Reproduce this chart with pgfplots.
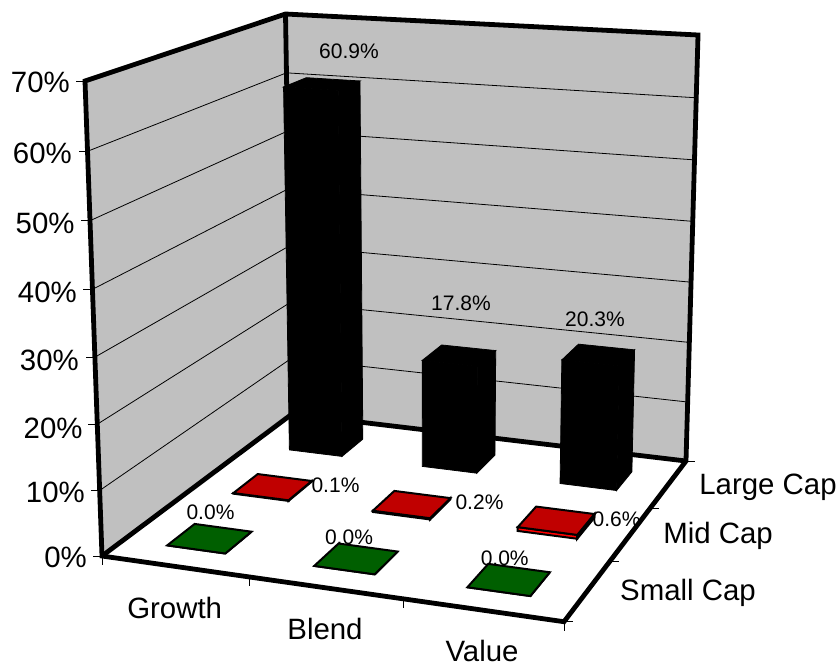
\documentclass[border=0pt]{standalone}
\usepackage{fontspec}
\setmainfont{Liberation Sans}
\usepackage{pgfplots}
\pgfplotsset{compat=1.18}

% Perspective projection of the chart box: u and v run from 0 to 3 over the
% floor (column and row), w is the height in percent.
\newcommand\projW[3]{(1-0.06042*(#1)/3+0.1913*(#2)/3-0.04*(#3)/70)}
\newcommand\projX[3]{((427.92*(#1)/3+245.86*(#2)/3+102+(#3)/70*(-20.4+4.83*(#1)/3+1.24*(#2)/3))/\projW{#1}{#2}{#3})}
\newcommand\projY[3]{((28.14*(#1)/3-62.8*(#2)/3+556+(#3)/70*(-478.24-6.08*(#1)/3+1.16*(#2)/3))/\projW{#1}{#2}{#3})}

\pgfplotsset{
  /pgfplots/table/model/.style={
    row sep=\\,
    x expr={\projX{\thisrow{u}}{\thisrow{v}}{\thisrow{w}}},
    y expr={\projY{\thisrow{u}}{\thisrow{v}}{\thisrow{w}}}},
  /pgfplots/table/modeltick/.style={
    row sep=\\,
    x expr={\projX{\thisrow{u}}{\thisrow{v}}{\thisrow{w}}+\thisrow{dx}},
    y expr={\projY{\thisrow{u}}{\thisrow{v}}{\thisrow{w}}+\thisrow{dy}}},
}

\definecolor{wall}{HTML}{C0C0C0}
\definecolor{redtop}{HTML}{C00000}
\definecolor{redfront}{HTML}{FF0000}
\definecolor{greentop}{HTML}{005F00}

% One column: #1 front, #2 side, #3 top colour, #4 outline width,
% #5 #6 u range, #7 #8 v range, #9 value
\newcommand\column[9]{%
  \addplot[fill=#1,draw=black,line width=#4] table[model]
    {u v w\\ #5 #7 0\\ #6 #7 0\\ #6 #7 #9\\ #5 #7 #9\\} --cycle;
  \addplot[fill=#2,draw=black,line width=#4] table[model]
    {u v w\\ #6 #7 0\\ #6 #8 0\\ #6 #8 #9\\ #6 #7 #9\\} --cycle;
  \addplot[fill=#3,draw=black,line width=#4] table[model]
    {u v w\\ #5 #7 #9\\ #6 #7 #9\\ #6 #8 #9\\ #5 #8 #9\\} --cycle;
}
% Value label: #1 x, #2 y (baseline centre), #3 value
\newcommand\valuelabel[3]{%
  \addplot[only marks,mark=none,point meta=explicit,
    nodes near coords={\pgfmathprintnumber[fixed,fixed zerofill,precision=1,
      assume math mode=true]{\pgfplotspointmeta}\%},
    nodes near coords style={anchor=base,inner sep=0pt,text=black,
      font=\fontsize{21}{21}\selectfont}]
    table[row sep=\\,x=x,y=y,meta=v] {x y v\\ #1 #2 #3\\};
}
\newcommand\walltick[1]{%
  \addplot[black,line width=0.8pt] table[modeltick]
    {u v w dx dy\\ 0 0 #1 0 0\\ 0 0 #1 -9 0\\};
}

\begin{document}
\begin{tikzpicture}[lab/.style={inner sep=0pt,text=black,font=\fontsize{29.4}{29.4}\selectfont}]
\useasboundingbox (0,0) rectangle (840pt,665pt);
\begin{axis}[
  at={(0,0)},anchor=south west,
  scale only axis,width=840pt,height=665pt,
  xmin=0,xmax=840,ymin=0,ymax=665,y dir=reverse,
  hide axis,clip=false,
]
% walls and floor
\addplot[fill=wall,draw=none] table[model]
  {u v w\\ 0 0 0\\ 0 3 0\\ 0 3 70\\ 0 0 70\\} --cycle;
\addplot[fill=wall,draw=none] table[model]
  {u v w\\ 0 3 0\\ 3 3 0\\ 3 3 70\\ 0 3 70\\} --cycle;
\addplot[fill=white,draw=none] table[model]
  {u v w\\ 0 0 0\\ 3 0 0\\ 3 3 0\\ 0 3 0\\} --cycle;

% gridlines
\pgfplotsinvokeforeach{10,20,30,40,50,60}{
  \addplot[black,line width=0.8pt] table[model]
    {u v w\\ 0 0 #1\\ 0 3 #1\\ 3 3 #1\\};
}

% box outline
\addplot[black,line width=4.8pt,line join=miter] table[model]
  {u v w\\ 0 3 70\\ 0 3 0\\};
\addplot[black,line width=4.8pt,line join=miter] table[model]
  {u v w\\ 0 0 0\\ 0 3 0\\ 3 3 0\\};
\addplot[black,line width=4.8pt,line join=miter] table[model]
  {u v w\\ 0 0 0\\ 0 0 70\\ 0 3 70\\ 3 3 70\\ 3 3 0\\ 3 0 0\\ 0 0 0\\} --cycle;

% ticks on the height scale and along the floor edges
\walltick{0}\walltick{10}\walltick{20}\walltick{30}
\walltick{40}\walltick{50}\walltick{60}\walltick{70}
\pgfplotsinvokeforeach{0,1,2,3}{
  \addplot[black,line width=0.8pt] table[modeltick]
    {u v w dx dy\\ #1 0 0 0 0\\ #1 0 0 0 9\\};
  \addplot[black,line width=0.8pt] table[modeltick]
    {u v w dx dy\\ 3 #1 0 0 0\\ 3 #1 0 9 0\\};
}

% Large Cap row
\column{black}{black}{black}{0.8pt}{0.3}{0.7}{2.25}{2.65}{60.9}
\column{black}{black}{black}{0.8pt}{1.3}{1.7}{2.25}{2.65}{17.8}
\column{black}{black}{black}{0.8pt}{2.3}{2.7}{2.25}{2.65}{20.3}
% Mid Cap row
\column{redfront}{redtop}{redtop}{2pt}{0.3}{0.7}{1.3}{1.7}{0.1}
\column{redfront}{redtop}{redtop}{2pt}{1.3}{1.7}{1.3}{1.7}{0.2}
\column{redfront}{redtop}{redtop}{2pt}{2.3}{2.7}{1.3}{1.7}{0.6}
% Small Cap row
\column{greentop}{greentop}{greentop}{2pt}{0.3}{0.7}{0.3}{0.7}{0.0}
\column{greentop}{greentop}{greentop}{2pt}{1.3}{1.7}{0.3}{0.7}{0.0}
\column{greentop}{greentop}{greentop}{2pt}{2.3}{2.7}{0.3}{0.7}{0.0}

% value labels
\valuelabel{349}{58}{60.9}
\valuelabel{461}{310}{17.8}
\valuelabel{595}{326}{20.3}
\valuelabel{335.5}{492}{0.1}
\valuelabel{479.5}{509}{0.2}
\valuelabel{616.5}{526}{0.6}
\valuelabel{210.5}{519}{0.0}
\valuelabel{349}{544}{0.0}
\valuelabel{504.7}{565}{0.0}

% scale and category labels
\node[lab,anchor=base east] at (axis cs:70,92) {70\%};
\node[lab,anchor=base east] at (axis cs:72,163) {60\%};
\node[lab,anchor=base east] at (axis cs:74.7,233) {50\%};
\node[lab,anchor=base east] at (axis cs:77,302) {40\%};
\node[lab,anchor=base east] at (axis cs:79,370) {30\%};
\node[lab,anchor=base east] at (axis cs:82.7,438) {20\%};
\node[lab,anchor=base east] at (axis cs:85,502) {10\%};
\node[lab,anchor=base east] at (axis cs:87,567) {0\%};
\node[lab,anchor=base] at (axis cs:174.7,618) {Growth};
\node[lab,anchor=base] at (axis cs:325,639) {Blend};
\node[lab,anchor=base] at (axis cs:482,661.5) {Value};
\node[lab,anchor=base] at (axis cs:768,494) {Large Cap};
\node[lab,anchor=base] at (axis cs:718,543.3) {Mid Cap};
\node[lab,anchor=base] at (axis cs:688,600) {Small Cap};
\end{axis}
\end{tikzpicture}
\end{document}
